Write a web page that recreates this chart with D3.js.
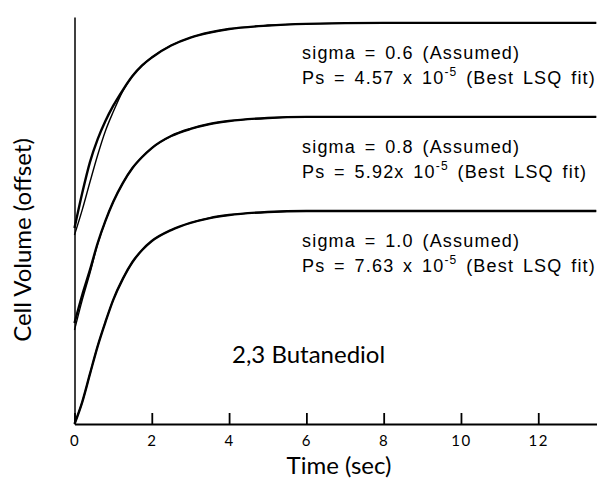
<!DOCTYPE html>
<html>
<head>
<meta charset="utf-8">
<script src="https://cdn.jsdelivr.net/npm/d3@7/dist/d3.min.js"></script>
<style>
  body { margin: 0; background: #fff; }
</style>
</head>
<body>
<div id="chart-area"></div>
<script>
let width = 597,
    height = 483;

// time samples (sec)
let time = [0, 0.2, 0.4, 0.6, 0.8, 1.0, 1.25, 1.5, 1.75, 2.0, 2.5, 3.0, 3.5, 4.0, 5.0, 6.0, 8.0, 10.0, 12.0, 13.5];

// cell volume (offset, arbitrary units)
// sigma = 0.6
let dataTop = [0.929, 1.052, 1.189, 1.322, 1.440, 1.533, 1.636, 1.710, 1.762, 1.801, 1.860, 1.899, 1.924, 1.941, 1.958, 1.966, 1.971, 1.971, 1.971, 1.971];
let fitTop  = [0.963, 1.135, 1.287, 1.400, 1.489, 1.563, 1.641, 1.710, 1.762, 1.801, 1.860, 1.899, 1.924, 1.941, 1.958, 1.966, 1.971, 1.971, 1.971, 1.971];
// sigma = 0.8
let dataMid = [0.462, 0.609, 0.742, 0.885, 0.998, 1.091, 1.184, 1.258, 1.312, 1.356, 1.415, 1.450, 1.474, 1.489, 1.504, 1.509, 1.509, 1.509, 1.509, 1.509];
let fitMid  = [0.496, 0.634, 0.757, 0.889, 0.998, 1.091, 1.184, 1.258, 1.312, 1.356, 1.415, 1.450, 1.474, 1.489, 1.504, 1.509, 1.509, 1.509, 1.509, 1.509];
// sigma = 1.0
let dataBot = [0, 0.108, 0.246, 0.383, 0.501, 0.609, 0.713, 0.796, 0.855, 0.899, 0.953, 0.988, 1.012, 1.027, 1.042, 1.047, 1.047, 1.047, 1.047, 1.047];
let fitBot  = [0, 0.108, 0.246, 0.383, 0.501, 0.609, 0.713, 0.796, 0.855, 0.899, 0.953, 0.988, 1.012, 1.027, 1.042, 1.047, 1.047, 1.047, 1.047, 1.047];

// annotation text
let sigmas = ["0.6", "0.8", "1.0"];
let psValues = ["4.57 x", "5.92x", "7.63 x"];
let xTicks = [0, 2, 4, 6, 8, 10, 12];

let svg = d3.select("#chart-area").append("svg")
    .attr("width", width)
    .attr("height", height);

let x = d3.scaleLinear()
    .domain([0, 13.52])
    .range([74.5, 597]);

let y = d3.scaleLinear()
    .domain([0, 2])
    .range([424, 17]);

let line = d3.line()
    .x((d, i) => x(time[i]))
    .y(d => y(d))
    .curve(d3.curveMonotoneX);

// x axis, ticks pointing inward
let xAxis = svg.append("g")
    .attr("transform", "translate(0,424)")
    .call(d3.axisBottom(x).tickValues(xTicks).tickSize(-11).tickSizeOuter(0).tickPadding(11));
xAxis.select(".domain").attr("stroke", "#000").attr("stroke-width", 2);
xAxis.selectAll(".tick line").attr("stroke", "#000").attr("stroke-width", 1.8);
xAxis.selectAll("text")
    .attr("font-family", "Lato, sans-serif")
    .attr("font-size", 15)
    .attr("letter-spacing", 1.5)
    .attr("fill", "#000");

// y axis, no ticks
let yAxis = svg.append("g")
    .attr("transform", "translate(74.5,0)")
    .call(d3.axisLeft(y).tickValues([]).tickSizeOuter(0));
yAxis.select(".domain").attr("stroke", "#000").attr("stroke-width", 1.5);

// curves: data (thin) and fit (thick)
let series = [dataTop, dataMid, dataBot];
let fits = [fitTop, fitMid, fitBot];

svg.selectAll(".data")
    .data(series)
    .enter()
    .append("path")
    .attr("class", "data")
    .attr("d", line)
    .attr("fill", "none")
    .attr("stroke", "#000")
    .attr("stroke-width", 1.4);

svg.selectAll(".fit")
    .data(fits)
    .enter()
    .append("path")
    .attr("class", "fit")
    .attr("d", line)
    .attr("fill", "none")
    .attr("stroke", "#000")
    .attr("stroke-width", 2.4);

// annotations next to each plateau
let plateaus = fits.map(f => f[f.length - 1]);

let notes = svg.selectAll(".note")
    .data(sigmas)
    .enter()
    .append("g")
    .attr("class", "note")
    .attr("font-family", "'Liberation Sans', Arial, sans-serif")
    .attr("font-size", 18)
    .attr("letter-spacing", 1.2)
    .attr("word-spacing", 2.5)
    .attr("fill", "#000");

notes.append("text")
    .attr("x", 302)
    .attr("y", (d, i) => y(plateaus[i]) + 36)
    .text(d => "sigma = " + d + " (Assumed)");

let ps = notes.append("text")
    .attr("x", 302)
    .attr("y", (d, i) => y(plateaus[i]) + 61);
ps.append("tspan").text((d, i) => "Ps = " + psValues[i] + " 10");
ps.append("tspan").attr("font-size", 12).attr("dy", -8).text("-5");
ps.append("tspan").attr("dy", 8).text(" (Best LSQ fit)");

// labels
svg.append("text")
    .attr("x", 232)
    .attr("y", 363)
    .attr("font-family", "Lato, sans-serif")
    .attr("font-size", 24)
    .text("2,3 Butanediol");

svg.append("text")
    .attr("x", 339)
    .attr("y", 474)
    .attr("text-anchor", "middle")
    .attr("font-family", "Lato, sans-serif")
    .attr("font-size", 24)
    .text("Time (sec)");

svg.append("text")
    .attr("transform", "translate(31,240) rotate(-90)")
    .attr("text-anchor", "middle")
    .attr("font-family", "Lato, sans-serif")
    .attr("font-size", 24)
    .text("Cell Volume (offset)");
</script>
</body>
</html>
